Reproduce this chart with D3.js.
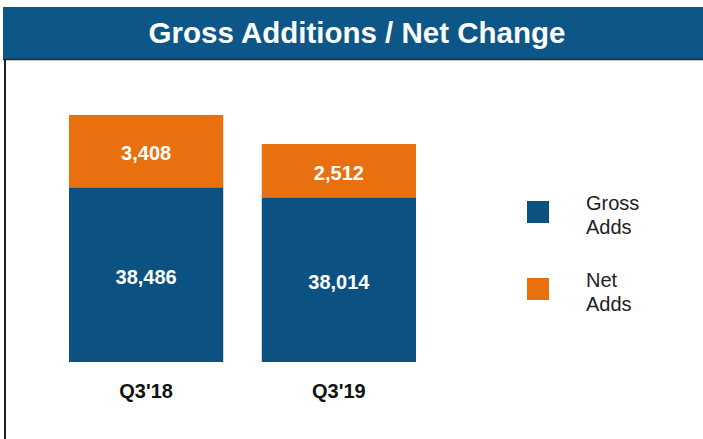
<!DOCTYPE html>
<html>
<head>
<meta charset="utf-8">
<script src="https://cdn.jsdelivr.net/npm/d3@7"></script>
<style>
  html, body { margin: 0; padding: 0; background: #fff; }
  svg { display: block; font-family: "Liberation Sans", Arial, sans-serif; }
</style>
</head>
<body>
<svg id="chart" width="703" height="439"></svg>
<script>
// Quarterly subscriber additions
const categories = ["Q3'18", "Q3'19"];
const grossAdds = [38486, 38014];
const netAdds = [3408, 2512];
const seriesNames = ["Gross Adds", "Net Adds"];
const legendLines = [["Gross", "Adds"], ["Net", "Adds"]];
const title = "Gross Additions / Net Change";

const W = 703, H = 439;
const BLUE = "#0b5283";
const ORANGE = "#e8700e";
const TITLE_BG = "#0c5788";

const svg = d3.select("#chart");

// Title banner
svg.append("rect").attr("x", 3).attr("y", 7).attr("width", W - 3).attr("height", 52).attr("fill", TITLE_BG);
svg.append("line").attr("x1", 3).attr("x2", W).attr("y1", 59.5).attr("y2", 59.5)
  .attr("stroke", "#1c2a36").attr("stroke-width", 1.5);
svg.append("line").attr("x1", 5).attr("x2", 5).attr("y1", 59).attr("y2", H)
  .attr("stroke", "#222").attr("stroke-width", 2);
svg.append("text").attr("x", 357).attr("y", 43).attr("text-anchor", "middle")
  .attr("fill", "#fff").attr("font-weight", "bold").attr("font-size", 29.5).text(title);

// Stacked data
const rows = categories.map((c, i) => ({ cat: c, gross: grossAdds[i], net: netAdds[i] }));
const stack = d3.stack().keys(["gross", "net"])(rows);

const x = d3.scaleBand().domain(categories).range([69, 416]).paddingInner(0.2).paddingOuter(0);
// Value axis starts above zero (truncated baseline); clamp keeps bars at the baseline
const y = d3.scaleLinear().domain([30250, 41894]).range([362, 115]).clamp(true);

const colors = [BLUE, ORANGE];
const layers = svg.append("g").selectAll("g").data(stack).join("g").attr("fill", (d, i) => colors[i]);
layers.selectAll("rect").data(d => d).join("rect")
  .attr("x", d => x(d.data.cat))
  .attr("width", x.bandwidth())
  .attr("y", d => y(d[1]))
  .attr("height", d => y(d[0]) - y(d[1]));

// Segment value labels
const fmt = d3.format(",");
layers.selectAll("text").data(d => d).join("text")
  .attr("x", d => x(d.data.cat) + x.bandwidth() / 2)
  .attr("y", d => (y(d[0]) + y(d[1])) / 2 + 9)
  .attr("text-anchor", "middle")
  .attr("fill", "#fff").attr("font-weight", "bold").attr("font-size", 20)
  .text(d => fmt(d[1] - d[0]));

// Category axis
const xAxis = svg.append("g").attr("transform", "translate(0,362)")
  .call(d3.axisBottom(x).tickSize(0).tickPadding(22));
xAxis.select(".domain").remove();
xAxis.selectAll("text").attr("font-size", 20).attr("font-weight", "bold").attr("fill", "#111")
  .attr("font-family", "Liberation Sans, Arial, sans-serif");

// Legend
const legend = svg.append("g").selectAll("g").data(seriesNames).join("g")
  .attr("transform", (d, i) => `translate(527,${201 + i * 77})`);
legend.append("rect").attr("width", 22).attr("height", 22).attr("fill", (d, i) => colors[i]);
legend.append("text").attr("x", 59).attr("y", 9).attr("font-size", 20).attr("fill", "#222")
  .selectAll("tspan").data((d, i) => legendLines[i]).join("tspan")
  .attr("x", 59).attr("dy", (d, j) => j === 0 ? 0 : 24).text(d => d);
</script>
</body>
</html>
